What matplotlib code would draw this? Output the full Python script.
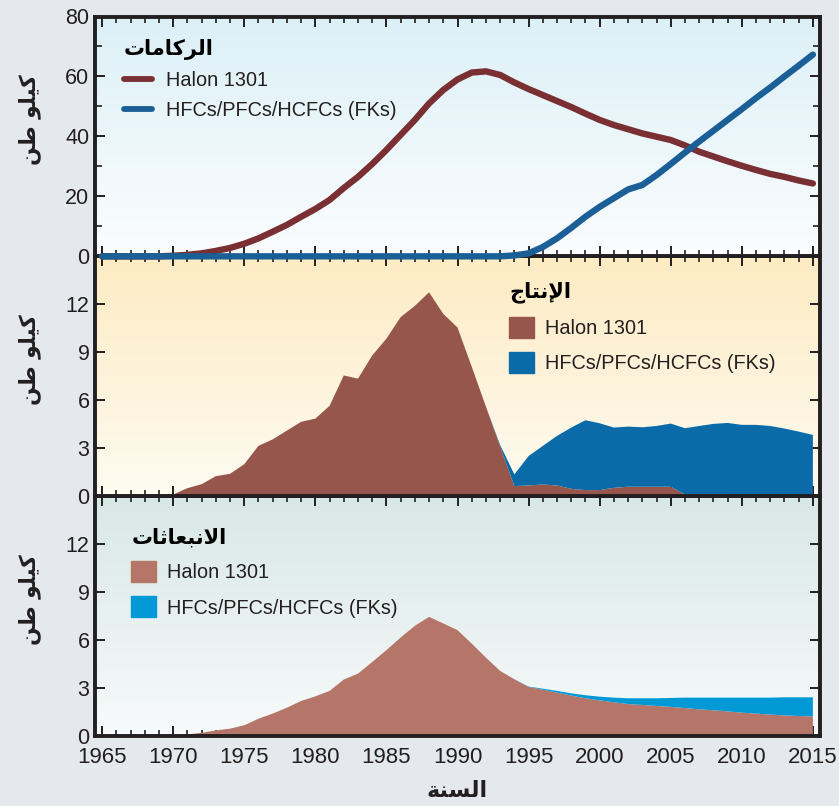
import matplotlib
matplotlib.use("Agg")
import matplotlib.pyplot as plt
import numpy as np
from matplotlib.patches import Patch
from matplotlib.lines import Line2D

years = np.arange(1965, 2016)

# Banks (kt)
bank_halon = [0, 0, 0, 0, 0, 0.2, 0.5, 1.0, 1.8, 2.8,
              4.2, 6.0, 8.2, 10.5, 13.2, 15.8, 18.8, 22.8, 26.5, 30.8,
              35.5, 40.5, 45.5, 51.0, 55.5, 59.0, 61.3, 61.7, 60.5, 58.0,
              55.8, 53.8, 51.8, 49.8, 47.6, 45.5, 43.8, 42.4, 41.0, 39.9,
              38.8, 37.0, 34.9, 33.3, 31.7, 30.2, 28.8, 27.5, 26.5, 25.3,
              24.3]
bank_fk = [0] * 29 + [0.3, 1.0, 3.1, 6.0, 9.5, 13.2, 16.5, 19.4, 22.3, 23.8, 27.1,
                      30.8, 34.6, 38.3, 41.9, 45.5, 49.1, 52.8, 56.3, 60.0, 63.6,
                      67.3]

# Production (kt/yr)
prod_halon = [0, 0, 0, 0, 0, 0.1, 0.5, 0.75, 1.25, 1.4,
              2.0, 3.15, 3.55, 4.1, 4.65, 4.85, 5.65, 7.55, 7.35, 8.8,
              9.85, 11.2, 11.9, 12.75, 11.4, 10.55, 8.1, 5.6, 3.1, 0.63,
              0.67, 0.73, 0.67, 0.46, 0.38, 0.38, 0.52, 0.59, 0.59, 0.59,
              0.59, 0.1, 0.1, 0.1, 0.1, 0.05, 0.05, 0.03, 0.02, 0.01,
              0]
prod_fk = [0] * 28 + [0.1, 0.73, 1.84, 2.41, 3.1, 3.83, 4.37, 4.18, 3.77, 3.76, 3.72, 3.8,
                      3.95, 4.15, 4.29, 4.42, 4.48, 4.41, 4.41, 4.36, 4.21, 4.03,
                      3.83]

# Emissions (kt/yr)
emis_halon = [0, 0, 0, 0, 0, 0.04, 0.1, 0.2, 0.35, 0.46,
              0.67, 1.08, 1.4, 1.77, 2.19, 2.48, 2.82, 3.53, 3.9, 4.63,
              5.37, 6.16, 6.89, 7.45, 7.04, 6.62, 5.78, 4.9, 4.07, 3.55,
              3.07, 2.9, 2.71, 2.53, 2.36, 2.23, 2.11, 2.0, 1.94, 1.88,
              1.82, 1.75, 1.67, 1.61, 1.54, 1.46, 1.4, 1.34, 1.29, 1.25,
              1.23]
emis_fk = [0] * 30 + [0.02, 0.06, 0.11, 0.14, 0.19, 0.23, 0.29, 0.36, 0.42, 0.48,
                      0.56, 0.65, 0.73, 0.79, 0.86, 0.94, 1.0, 1.06, 1.13, 1.17,
                      1.19]

label_halon = "Halon 1301"
label_fk = "HFCs/PFCs/HCFCs (FKs)"

# Arabic shaping by hand (presentation forms, visual order)
AR_FORMS = {
    'ا': ('\uFE8D', '\uFE8E', None, None),
    'إ': ('\uFE87', '\uFE88', None, None),
    'ب': ('\uFE8F', '\uFE90', '\uFE91', '\uFE92'),
    'ت': ('\uFE95', '\uFE96', '\uFE97', '\uFE98'),
    'ث': ('\uFE99', '\uFE9A', '\uFE9B', '\uFE9C'),
    'ج': ('\uFE9D', '\uFE9E', '\uFE9F', '\uFEA0'),
    'ر': ('\uFEAD', '\uFEAE', None, None),
    'س': ('\uFEB1', '\uFEB2', '\uFEB3', '\uFEB4'),
    'ط': ('\uFEC1', '\uFEC2', '\uFEC3', '\uFEC4'),
    'ع': ('\uFEC9', '\uFECA', '\uFECB', '\uFECC'),
    'ك': ('\uFED9', '\uFEDA', '\uFEDB', '\uFEDC'),
    'ل': ('\uFEDD', '\uFEDE', '\uFEDF', '\uFEE0'),
    'م': ('\uFEE1', '\uFEE2', '\uFEE3', '\uFEE4'),
    'ن': ('\uFEE5', '\uFEE6', '\uFEE7', '\uFEE8'),
    'ة': ('\uFE93', '\uFE94', None, None),
    'و': ('\uFEED', '\uFEEE', None, None),
    'ي': ('\uFEF1', '\uFEF2', '\uFEF3', '\uFEF4'),
}
LAM_ALEF = {'ا': ('\uFEFB', '\uFEFC'), 'إ': ('\uFEF9', '\uFEFA')}


def shape_ar(text):
    words = []
    for word in text.split(' '):
        units = []
        i = 0
        while i < len(word):
            c = word[i]
            if c == 'ل' and i + 1 < len(word) and word[i + 1] in LAM_ALEF:
                iso, fin = LAM_ALEF[word[i + 1]]
                units.append((iso, fin, None, None))
                i += 2
            else:
                units.append(AR_FORMS[c])
                i += 1
        glyphs = []
        for j, u in enumerate(units):
            prev_joins = j > 0 and units[j - 1][2] is not None
            next_joins = j + 1 < len(units) and u[2] is not None
            if prev_joins and next_joins:
                glyphs.append(u[3])
            elif prev_joins:
                glyphs.append(u[1])
            elif next_joins:
                glyphs.append(u[2])
            else:
                glyphs.append(u[0])
        words.append(''.join(reversed(glyphs)))
    return ' '.join(reversed(words))


AR_FONT = ['DejaVu Sans']
plt.rcParams['font.family'] = ['Liberation Sans', 'DejaVu Sans']

c_line_halon = "#7a2f33"
c_line_fk = "#1b5f97"
c_prod_halon = "#97564c"
c_prod_fk = "#0a6ba8"
c_emis_halon = "#b57569"
c_emis_fk = "#0099d6"
text_col = "#231f20"

fig = plt.figure(figsize=(8.39, 8.06), dpi=100, facecolor="#e5e9ee")

left, right = 95 / 839, 820 / 839
top_px, bot_px = 16.5, 736
h_px = (bot_px - top_px) / 3
axes = []
for k in range(3):
    y0 = 1 - (top_px + (k + 1) * h_px) / 806
    axes.append(fig.add_axes([left, y0, right - left, h_px / 806]))
ax1, ax2, ax3 = axes
# banks panel on top so its zero line covers the shared edge
ax1.set_zorder(3)
ax2.set_zorder(2)
ax3.set_zorder(1)

gradients = [("#dcf0f7", "#fbfdfe"), ("#fdebc3", "#fefbf1"), ("#d8e8e5", "#f7fafa")]
for ax, (ctop, cbot) in zip(axes, gradients):
    c0 = np.array(matplotlib.colors.to_rgb(cbot))
    c1 = np.array(matplotlib.colors.to_rgb(ctop))
    t = np.linspace(0, 1, 256)[:, None]
    img = (c0 + (c1 - c0) * t)[:, None, :]
    ax.imshow(img, extent=[0, 1, 0, 1], transform=ax.transAxes, origin="lower",
              aspect="auto", zorder=0, interpolation="bilinear")

# Panel 1: banks
ax1.plot(years, bank_halon, color=c_line_halon, lw=4.6, solid_capstyle="round",
         solid_joinstyle="round", zorder=4, clip_on=False)
ax1.plot(years, bank_fk, color=c_line_fk, lw=4.6, solid_capstyle="round",
         solid_joinstyle="round", zorder=5, clip_on=False)
ax1.set_ylim(0, 80)
ax1.set_yticks([0, 20, 40, 60, 80])
ax1.set_yticks([10, 30, 50, 70], minor=True)

# Panel 2: production
ax2.stackplot(years, prod_halon, prod_fk, colors=[c_prod_halon, c_prod_fk], lw=0, zorder=2)
ax2.set_ylim(0, 15)
ax2.set_yticks([0, 3, 6, 9, 12])

# Panel 3: emissions
ax3.stackplot(years, emis_halon, emis_fk, colors=[c_emis_halon, c_emis_fk], lw=0, zorder=2)
ax3.set_ylim(0, 15)
ax3.set_yticks([0, 3, 6, 9, 12])

for ax in axes:
    ax.set_xlim(1964.5, 2015.5)
    ax.set_xticks(np.arange(1965, 2016, 5))
    ax.set_xticks(np.arange(1965, 2016, 1), minor=True)
    ax.tick_params(which="both", direction="in", top=True, bottom=True, left=True,
                   right=True, colors=text_col, labelcolor=text_col)
    ax.tick_params(axis="y", labelsize=15.5)
    ax.tick_params(axis="x", labelsize=16)
    ax.tick_params(which="major", length=7, width=1.4)
    ax.tick_params(axis="y", which="major", pad=4)
    ax.tick_params(axis="x", which="major", pad=8)
    ax.tick_params(which="minor", length=4, width=1.2)
    ax.tick_params(axis="y", which="minor", length=5)
    for sp in ax.spines.values():
        sp.set_linewidth(2.8)
        sp.set_color(text_col)
        sp.set_zorder(3)
    ax.set_facecolor("none")
    if ax is not ax3:
        ax.tick_params(labelbottom=False)
    ax.set_ylabel(shape_ar("كيلو طن"), family=AR_FONT, fontsize=15.5, fontweight="bold",
                  color=text_col)
    ax.yaxis.set_label_coords(-0.075, 0.57)

ax3.set_xlabel(shape_ar("السنة"), family=AR_FONT, fontsize=16, fontweight="bold",
               color=text_col, labelpad=9)

# Legends
leg_kw = dict(frameon=False, borderpad=0, borderaxespad=0, alignment="left",
              fontsize=14.3, labelcolor=text_col,
              title_fontproperties={"family": AR_FONT, "size": 15, "weight": "bold"})

h1 = [Line2D([], [], color=c_line_halon, lw=4.2, solid_capstyle="round"),
      Line2D([], [], color=c_line_fk, lw=4.2, solid_capstyle="round")]
l1 = ax1.legend(h1, [label_halon, label_fk], loc="upper left", bbox_to_anchor=(0.04, 0.905),
                title=shape_ar("الركامات"), handlelength=1.4, handletextpad=0.7,
                labelspacing=0.55, **leg_kw)

h2 = [Patch(color=c_prod_halon), Patch(color=c_prod_fk)]
l2 = ax2.legend(h2, [label_halon, label_fk], loc="upper left", bbox_to_anchor=(0.571, 0.895),
                title=shape_ar("الإنتاج"), handlelength=1.25, handleheight=1.25,
                handletextpad=0.55, labelspacing=0.7, **leg_kw)

h3 = [Patch(color=c_emis_halon), Patch(color=c_emis_fk)]
l3 = ax3.legend(h3, [label_halon, label_fk], loc="upper left", bbox_to_anchor=(0.05, 0.87),
                title=shape_ar("الانبعاثات"), handlelength=1.25, handleheight=1.25,
                handletextpad=0.55, labelspacing=0.7, **leg_kw)
for lg in (l1, l2, l3):
    lg.set_zorder(6)

fig.savefig("out.png", dpi=100, facecolor=fig.get_facecolor())
